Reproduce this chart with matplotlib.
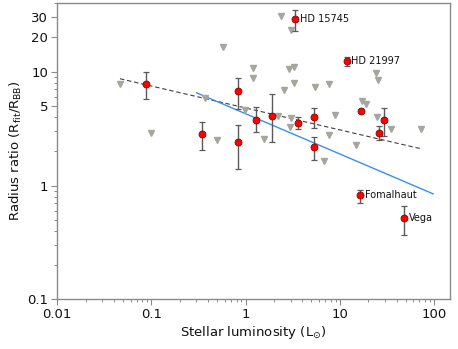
import numpy as np
import matplotlib
matplotlib.use("Agg")
import matplotlib.pyplot as plt
from matplotlib.ticker import FixedLocator, NullFormatter, FixedFormatter

# Resolved discs (red points) with error bars
red_lum = [0.0885, 0.341, 0.828, 0.828, 1.28, 1.89, 3.34, 3.59, 5.3, 5.3,
           11.8, 16.9, 26.2, 29.4, 16.5, 48.3]
red_ratio = [7.72, 2.85, 2.39, 6.74, 3.80, 4.12, 28.8, 3.56, 3.98, 2.20,
             12.3, 4.56, 2.89, 3.78, 0.817, 0.516]
red_hi = [9.84, 3.60, 3.37, 8.84, 4.94, 6.40, 35.2, 3.98, 4.80, 2.66,
          13.4, 4.56, 3.30, 4.78, 0.917, 0.658]
red_lo = [5.70, 2.06, 1.41, 4.72, 2.94, 2.40, 22.6, 3.15, 3.17, 1.68,
          11.2, 4.56, 2.49, 2.75, 0.705, 0.371]
red_names = ["", "", "", "", "", "", "HD 15745", "", "", "",
             "HD 21997", "", "", "", "Fomalhaut", "Vega"]

# Upper limits (grey triangles)
tri_lum = [0.0463, 0.100, 0.574, 0.492, 0.370, 2.37, 3.00, 1.205, 1.20, 2.90,
           3.30, 3.26, 2.53, 0.983, 2.19, 3.05, 2.99, 1.57, 5.44, 7.70,
           24.2, 25.7, 17.0, 18.9, 8.87, 25.1, 34.9, 72.6, 7.76, 14.7, 6.85]
tri_ratio = [7.83, 2.90, 16.65, 2.52, 5.90, 30.7, 23.4, 10.8, 8.80, 10.6,
             11.0, 7.88, 6.93, 4.63, 4.04, 3.92, 3.28, 2.54, 7.31, 7.83,
             9.74, 8.50, 5.53, 5.15, 4.15, 3.98, 3.12, 3.12, 2.80, 2.28, 1.65]

# Power-law fits: ratio = amp * L**index
dash_amp, dash_index, dash_range = 4.80, -0.1925, (0.0463, 72.6)
blue_amp, blue_index, blue_range = 4.27, -0.3535, (0.302, 98.0)

x_ticks = [0.01, 0.1, 1, 10, 100]
x_ticklabels = ["0.01", "0.1", "1", "10", "100"]
y_ticks = [0.1, 1, 5, 10, 20, 30]
y_ticklabels = ["0.1", "1", "5", "10", "20", "30"]

W, H = 458, 349
fig = plt.figure(figsize=(W / 100, H / 100), dpi=100)
ax = fig.add_axes([57.3 / W, 1 - 299.3 / H, (450 - 57.3) / W, (299.3 - 3) / H])
ax.set_xscale("log")
ax.set_yscale("log")
ax.set_xlim(0.01, 10 ** (2 + (450 - 434) / 94.2))
ax.set_ylim(0.1, 10 ** (1 + (71.7 - 3) / 113.8))

# fits
xd = np.logspace(np.log10(dash_range[0]), np.log10(dash_range[1]), 50)
ax.plot(xd, dash_amp * xd ** dash_index, ls=(0, (4, 2.5)), color="#404040", lw=0.8, zorder=2)
xb = np.logspace(np.log10(blue_range[0]), np.log10(blue_range[1]), 50)
ax.plot(xb, blue_amp * xb ** blue_index, color="#3a8df5", lw=1.0, zorder=2)

# triangles
ax.plot(tri_lum, tri_ratio, ls="none", marker="v", ms=5.0, color="#a6a69f",
        mec="#a6a69f", zorder=3)

# red points
rr = np.array(red_ratio)
yerr = np.vstack([rr - np.array(red_lo), np.array(red_hi) - rr])
ax.errorbar(red_lum, red_ratio, yerr=yerr, fmt="none", ecolor="#5a5a5a",
            elinewidth=1.0, capsize=2.2, capthick=0.9, zorder=4)
ax.plot(red_lum, red_ratio, ls="none", marker="o", ms=5.0, mfc="#ff0000",
        mec="#8a0000", mew=0.6, zorder=5)

for x, y, name in zip(red_lum, red_ratio, red_names):
    if name:
        ax.annotate(name, (x, y), xytext=(3.5, 0), textcoords="offset points",
                    ha="left", va="center", fontsize=7, color="#111111")

ax.xaxis.set_major_locator(FixedLocator(x_ticks))
ax.xaxis.set_major_formatter(FixedFormatter(x_ticklabels))
xminor = [m * 10.0 ** e for e in range(-2, 3) for m in range(2, 10)]
ax.xaxis.set_minor_locator(FixedLocator(xminor))
ax.xaxis.set_minor_formatter(NullFormatter())

ax.yaxis.set_major_locator(FixedLocator(y_ticks))
ax.yaxis.set_major_formatter(FixedFormatter(y_ticklabels))
yminor = [m * 10.0 ** e for e in range(-1, 2) for m in range(2, 10)]
yminor = [v for v in yminor if all(abs(v - t) > 1e-9 for t in y_ticks)]
ax.yaxis.set_minor_locator(FixedLocator(yminor))
ax.yaxis.set_minor_formatter(NullFormatter())

for s in ax.spines.values():
    s.set_color("#8a8a8a")
    s.set_linewidth(1.0)
ax.tick_params(which="major", direction="out", length=4.5, width=0.8,
               color="#8a8a8a", labelsize=9.5, labelcolor="#111111", pad=2)
ax.tick_params(which="minor", direction="out", length=2.5, width=0.7, color="#8a8a8a")

ax.set_xlabel(r"Stellar luminosity (L$_{\odot}$)", fontsize=9.5, color="#111111", labelpad=2)
ax.set_ylabel(r"Radius ratio (R$_{\mathregular{fit}}$/R$_{\mathregular{BB}}$)",
              fontsize=9.5, color="#111111", labelpad=2)

fig.savefig("out.png", dpi=100)
